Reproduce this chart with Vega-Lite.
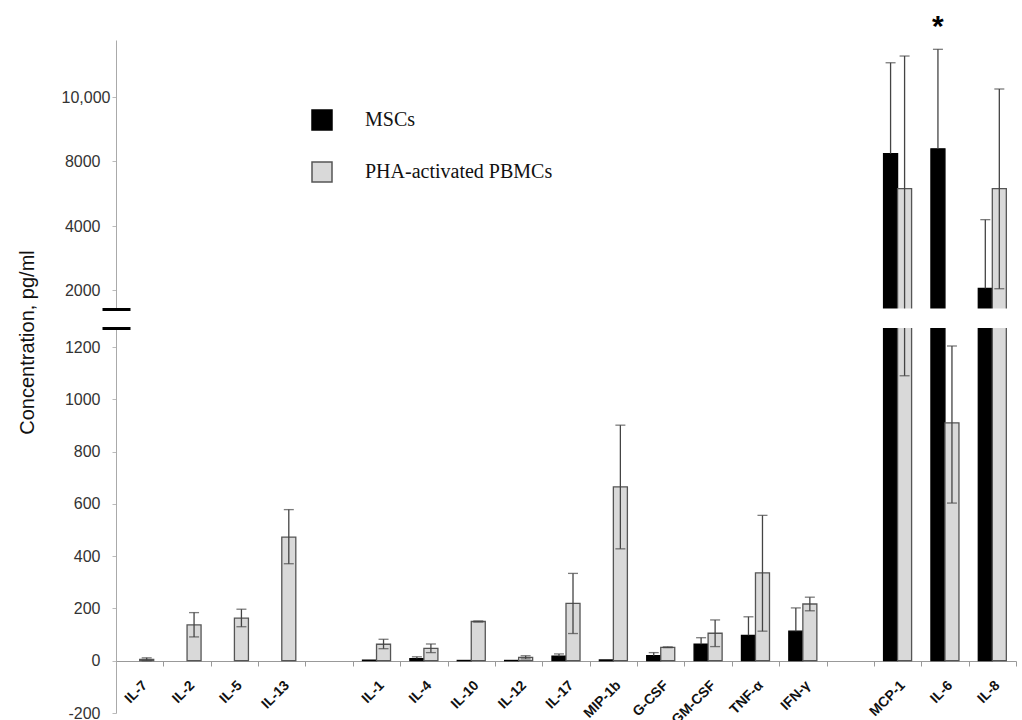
{
  "$schema": "https://vega.github.io/schema/vega-lite/v6.json",
  "width": 900,
  "height": 673,
  "autosize": {"type": "none"},
  "padding": {"left": 116, "top": 40, "right": 6, "bottom": 7},
  "background": "white",
  "config": {"view": {"stroke": null}},
  "datasets": {
    "cyto": [
      {"cytokine": "IL-7", "series": "PHA-activated PBMCs", "value": 5, "lo": 0, "hi": 11},
      {"cytokine": "IL-2", "series": "PHA-activated PBMCs", "value": 137, "lo": 91, "hi": 184},
      {"cytokine": "IL-5", "series": "PHA-activated PBMCs", "value": 163, "lo": 130, "hi": 197},
      {"cytokine": "IL-13", "series": "PHA-activated PBMCs", "value": 473, "lo": 371, "hi": 578},
      {"cytokine": "IL-1", "series": "MSCs", "value": 2, "lo": null, "hi": null},
      {"cytokine": "IL-1", "series": "PHA-activated PBMCs", "value": 63, "lo": 46, "hi": 82},
      {"cytokine": "IL-4", "series": "MSCs", "value": 8, "lo": 8, "hi": 15},
      {"cytokine": "IL-4", "series": "PHA-activated PBMCs", "value": 47, "lo": 31, "hi": 64},
      {"cytokine": "IL-10", "series": "MSCs", "value": 1, "lo": null, "hi": null},
      {"cytokine": "IL-10", "series": "PHA-activated PBMCs", "value": 150, "lo": 148, "hi": 152},
      {"cytokine": "IL-12", "series": "MSCs", "value": 1, "lo": null, "hi": null},
      {"cytokine": "IL-12", "series": "PHA-activated PBMCs", "value": 13, "lo": 7, "hi": 19},
      {"cytokine": "IL-17", "series": "MSCs", "value": 17, "lo": 17, "hi": 26},
      {"cytokine": "IL-17", "series": "PHA-activated PBMCs", "value": 219, "lo": 104, "hi": 334},
      {"cytokine": "MIP-1b", "series": "MSCs", "value": 3, "lo": null, "hi": null},
      {"cytokine": "MIP-1b", "series": "PHA-activated PBMCs", "value": 665, "lo": 428, "hi": 901},
      {"cytokine": "G-CSF", "series": "MSCs", "value": 19, "lo": 19, "hi": 31},
      {"cytokine": "G-CSF", "series": "PHA-activated PBMCs", "value": 51, "lo": 50, "hi": 53},
      {"cytokine": "GM-CSF", "series": "MSCs", "value": 63, "lo": 63, "hi": 88},
      {"cytokine": "GM-CSF", "series": "PHA-activated PBMCs", "value": 105, "lo": 54, "hi": 156},
      {"cytokine": "TNF-α", "series": "MSCs", "value": 97, "lo": 97, "hi": 168},
      {"cytokine": "TNF-α", "series": "PHA-activated PBMCs", "value": 336, "lo": 113, "hi": 556},
      {"cytokine": "IFN-γ", "series": "MSCs", "value": 113, "lo": 113, "hi": 202},
      {"cytokine": "IFN-γ", "series": "PHA-activated PBMCs", "value": 217, "lo": 191, "hi": 243},
      {"cytokine": "MCP-1", "series": "MSCs", "value": 8230, "lo": 8230, "hi": 11070},
      {"cytokine": "MCP-1", "series": "PHA-activated PBMCs", "value": 6300, "lo": 1090, "hi": 11280},
      {"cytokine": "IL-6", "series": "MSCs", "value": 8380, "lo": 8380, "hi": 11490},
      {"cytokine": "IL-6", "series": "PHA-activated PBMCs", "value": 910, "lo": 603, "hi": 1214},
      {"cytokine": "IL-8", "series": "MSCs", "value": 2050, "lo": 2050, "hi": 4390},
      {"cytokine": "IL-8", "series": "PHA-activated PBMCs", "value": 6300, "lo": 2040, "hi": 10250}
    ],
    "brk": [{"lo": 1467, "hi": 1740}],
    "star": [{"cytokine": "IL-6", "series": "MSCs", "pos": 12200, "label": "*"}]
  },
  "layer": [
    {
      "data": {"name": "cyto"},
      "encoding": {
        "x": {
          "field": "cytokine", "type": "nominal", "sort": null,
          "scale": {
            "domain": ["IL-7", "IL-2", "IL-5", "IL-13", " ", "IL-1", "IL-4", "IL-10", "IL-12", "IL-17", "MIP-1b", "G-CSF", "GM-CSF", "TNF-α", "IFN-γ", "  ", "MCP-1", "IL-6", "IL-8"],
            "paddingInner": 0, "paddingOuter": 0
          },
          "axis": {
            "title": null, "offset": -52, "tickBand": "extent", "tickSize": 5,
            "tickColor": "#999", "domainColor": "#999", "labelAngle": -45,
            "labelFont": "Liberation Sans", "labelFontWeight": "bold", "labelFontSize": 14,
            "labelColor": "#111", "labelPadding": 12, "labelOverlap": false, "grid": false
          }
        },
        "xOffset": {
          "field": "series", "type": "nominal",
          "scale": {"domain": ["MSCs", "PHA-activated PBMCs"], "paddingInner": 0, "paddingOuter": 0.69}
        }
      },
      "layer": [
        {
          "mark": {"type": "bar", "strokeWidth": 1.3},
          "encoding": {
            "y": {
              "field": "value", "type": "quantitative",
              "scale": {"domain": [-200, 1200, 2000, 4000, 8000, 10000, 11781], "range": [673, 307, 250, 186, 121, 57, 0], "nice": false, "zero": false},
              "axis": {
                "title": "Concentration, pg/ml",
                "values": [-200, 0, 200, 400, 600, 800, 1000, 1200, 2000, 4000, 8000, 10000],
                "labelExpr": "datum.value == 10000 ? '10,000' : (datum.value < 0 ? '-' + (-datum.value) : '' + datum.value)",
                "labelFont": "Liberation Sans", "labelFontSize": 16, "labelColor": "#333",
                "labelPadding": {"condition": {"test": "datum.value == 10000", "value": 2}, "value": 12},
                "tickSize": 4, "tickColor": "#bbb", "domainColor": "#aaa", "grid": false,
                "titleFont": "Liberation Sans", "titleFontSize": 20, "titleFontWeight": "normal",
                "titleColor": "#111", "titleX": -89, "titleY": 302, "titleAlign": "center",
                "titleBaseline": "middle", "titleAngle": -90
              }
            },
            "color": {
              "field": "series", "type": "nominal",
              "scale": {"domain": ["MSCs", "PHA-activated PBMCs"], "range": ["#000000", "#d9d9d9"]},
              "legend": {
                "title": null, "orient": "none", "legendX": 195, "legendY": 69,
                "symbolType": "square", "symbolSize": 400, "symbolStrokeColor": "#333",
                "symbolStrokeWidth": 1.5, "labelFont": "Liberation Serif", "labelFontSize": 20,
                "labelColor": "#111", "labelOffset": 32, "rowPadding": 26, "padding": 0,
                "labelLimit": 0
              }
            },
            "stroke": {
              "field": "series", "type": "nominal",
              "scale": {"domain": ["MSCs", "PHA-activated PBMCs"], "range": ["#000000", "#555555"]},
              "legend": null
            }
          }
        },
        {
          "transform": [{"filter": "datum.hi != null"}],
          "mark": {"type": "rule", "color": "#444", "strokeWidth": 1.3},
          "encoding": {
            "y": {"field": "lo", "type": "quantitative"},
            "y2": {"field": "hi"}
          }
        },
        {
          "transform": [{"filter": "datum.hi != null"}],
          "mark": {"type": "tick", "color": "#444", "size": 10, "thickness": 1.3},
          "encoding": {"y": {"field": "hi", "type": "quantitative"}}
        },
        {
          "transform": [{"filter": "datum.lo != null && datum.series == 'PHA-activated PBMCs'"}],
          "mark": {"type": "tick", "color": "#444", "size": 10, "thickness": 1.3},
          "encoding": {"y": {"field": "lo", "type": "quantitative"}}
        }
      ]
    },
    {
      "data": {"name": "brk"},
      "mark": {"type": "rect", "fill": "white"},
      "encoding": {
        "y": {
          "field": "lo", "type": "quantitative",
          "scale": {"domain": [-200, 1200, 2000, 4000, 8000, 10000, 11781], "range": [673, 307, 250, 186, 121, 57, 0], "nice": false, "zero": false},
          "axis": {
            "orient": "left", "values": [1467, 1740], "labels": false, "domain": false,
            "grid": false, "title": null, "tickSize": 28, "offset": -14,
            "tickColor": "#000", "tickWidth": 3, "zindex": 1
          }
        },
        "y2": {"field": "hi"}
      }
    },
    {
      "data": {"name": "star"},
      "mark": {"type": "text", "font": "Liberation Sans", "fontSize": 30, "fontWeight": "bold", "baseline": "middle", "color": "#000"},
      "encoding": {
        "x": {"field": "cytokine", "type": "nominal"},
        "xOffset": {"field": "series", "type": "nominal"},
        "y": {"field": "pos", "type": "quantitative", "axis": null},
        "text": {"field": "label"}
      }
    }
  ],
  "resolve": {"axis": {"y": "independent"}}
}
